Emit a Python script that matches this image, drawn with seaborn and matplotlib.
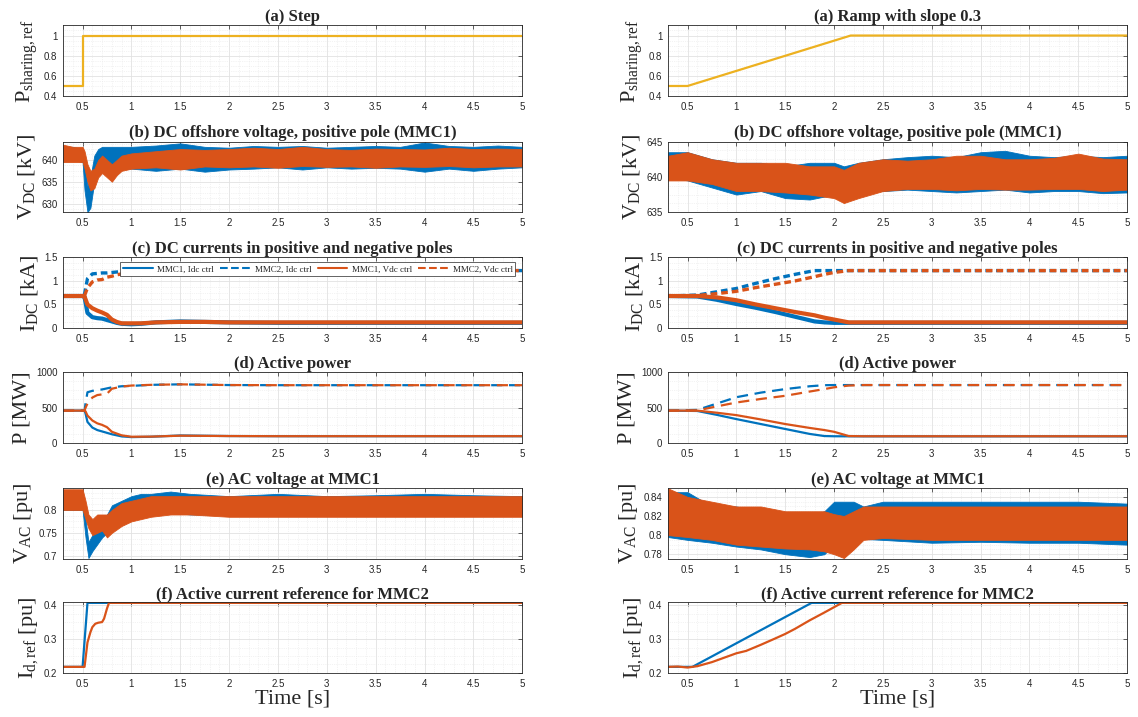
import numpy as np
import pandas as pd
import seaborn as sns
import matplotlib.pyplot as plt
from matplotlib.lines import Line2D
from matplotlib.ticker import MultipleLocator, AutoMinorLocator, FuncFormatter

# ---- data ----
# (a) power sharing reference
t_a_step = [0.3, 0.5, 0.5, 5.0]
p_a_step = [0.5, 0.5, 1.0, 1.0]
t_a_ramp = [0.3, 0.5, 2.17, 5.0]
p_a_ramp = [0.5, 0.5, 1.0, 1.0]

# (b) DC voltage envelopes (noisy signals) - step case
t_b_l = [0.3, 0.4, 0.5, 0.52, 0.55, 0.58, 0.62, 0.66, 0.7, 0.75, 0.8, 0.85, 0.9,
         1.0, 1.25, 1.5, 1.75, 2.0, 2.25, 2.5, 2.75, 3.0, 3.25, 3.5, 3.75, 4.0, 4.25, 4.5, 4.75, 5.0]
vb_idc_hi_l = [643, 643, 642.5, 640, 634, 636, 641, 642.5, 643, 643, 643, 643, 643,
               643, 643.3, 643.8, 643, 642.8, 643.2, 643, 643.2, 642.8, 643, 643.2, 643, 644, 643.2, 643, 643.3, 643]
vb_idc_lo_l = [640, 640, 639.5, 633, 628, 629, 635, 639, 639.5, 639, 638.5, 638.5, 638,
               638, 637.5, 638, 637.3, 637.8, 638, 638.3, 637.8, 638.3, 638, 638.2, 638, 637.3, 638, 637.5, 638, 638.3]
vb_vdc_hi_l = [643.5, 643, 643, 642, 639, 637.5, 638, 640, 641, 640, 639, 640, 641,
               641.5, 642, 642.5, 642.3, 642.5, 642.8, 642.5, 643, 642.5, 642.3, 642.6, 642.5, 642.4, 642.8, 642.5, 642.6, 642.5]
vb_vdc_lo_l = [639.5, 639.5, 639.5, 638, 635, 633, 633.5, 636, 637, 636, 635, 636.5, 637.5,
               638, 638.3, 637.8, 638.5, 638.3, 638.5, 638.2, 638.6, 638.4, 638.5, 638.2, 638.5, 638.4, 638.6, 638.3, 638.5, 638.5]

# (b) ramp case
t_b_r = [0.3, 0.5, 0.75, 1.0, 1.25, 1.5, 1.75, 2.0, 2.1, 2.25, 2.5, 2.75, 3.0, 3.25, 3.5, 3.75,
         4.0, 4.25, 4.5, 4.75, 5.0]
vb_idc_hi_r = [643.5, 643.5, 642.5, 642, 642, 641.5, 642, 642, 641.5, 642, 642.5, 642.8, 643, 642.8,
               643.5, 643.7, 643, 642.8, 643, 642.8, 643]
vb_idc_lo_r = [640, 639.5, 638.5, 637.5, 638, 637, 636.8, 637.5, 638, 638, 638, 638.2, 638, 637.8,
               638, 638.2, 637.8, 638, 638, 637.7, 637.8]
vb_vdc_hi_r = [643, 643.5, 642.5, 642, 642, 642, 641.5, 641.5, 641, 642, 642.5, 642.3, 642.5, 643,
               643, 642.5, 642.5, 642.7, 643.3, 642.6, 642.5]
vb_vdc_lo_r = [639.5, 639.5, 639, 638, 638, 637.8, 637.5, 637, 636.3, 637, 638, 638.3, 638.3, 638.1,
               638.3, 638.2, 638.2, 638.3, 638.3, 638, 638.2]

# (c) DC currents [kA] - step case
t_c_l = [0.3, 0.5, 0.52, 0.55, 0.6, 0.65, 0.7, 0.75, 0.8, 0.85, 0.9, 1.0, 1.1, 1.25,
         1.5, 1.75, 2.0, 2.5, 3.0, 3.5, 4.0, 4.5, 5.0]
ic_mmc1_idc_l = [0.68, 0.68, 0.66, 0.32, 0.23, 0.21, 0.2, 0.17, 0.14, 0.11, 0.09, 0.08, 0.09, 0.12,
                 0.14, 0.13, 0.12, 0.11, 0.11, 0.11, 0.11, 0.11, 0.11]
ic_mmc2_idc_l = [0.68, 0.68, 0.72, 1.05, 1.15, 1.16, 1.17, 1.17, 1.18, 1.19, 1.2, 1.2, 1.21, 1.22,
                 1.22, 1.22, 1.22, 1.22, 1.22, 1.22, 1.22, 1.22, 1.22]
ic_mmc1_vdc_l = [0.68, 0.68, 0.67, 0.5, 0.42, 0.37, 0.33, 0.28, 0.18, 0.13, 0.1, 0.1, 0.1, 0.12,
                 0.13, 0.13, 0.12, 0.12, 0.12, 0.12, 0.12, 0.12, 0.12]
ic_mmc2_vdc_l = [0.68, 0.68, 0.69, 0.85, 0.98, 1.02, 1.03, 1.08, 1.1, 1.13, 1.15, 1.18, 1.2, 1.21,
                 1.22, 1.22, 1.22, 1.22, 1.22, 1.22, 1.22, 1.22, 1.22]

# (c) ramp case
t_c_r = [0.3, 0.6, 0.8, 1.0, 1.2, 1.4, 1.6, 1.8, 1.9, 2.0, 2.15, 2.5, 3.0, 3.5, 4.0, 4.5, 5.0]
ic_mmc1_idc_r = [0.68, 0.67, 0.6, 0.51, 0.43, 0.34, 0.24, 0.14, 0.12, 0.11, 0.11, 0.11, 0.11, 0.11, 0.11, 0.11, 0.11]
ic_mmc2_idc_r = [0.68, 0.7, 0.77, 0.84, 0.95, 1.05, 1.14, 1.22, 1.22, 1.22, 1.22, 1.22, 1.22, 1.22, 1.22, 1.22, 1.22]
ic_mmc1_vdc_r = [0.68, 0.68, 0.65, 0.59, 0.5, 0.42, 0.34, 0.27, 0.22, 0.18, 0.12, 0.12, 0.12, 0.12, 0.12, 0.12, 0.12]
ic_mmc2_vdc_r = [0.68, 0.69, 0.73, 0.78, 0.86, 0.93, 1.0, 1.09, 1.14, 1.18, 1.22, 1.22, 1.22, 1.22, 1.22, 1.22, 1.22]

# (d) active power [MW] - step case
t_d_l = [0.3, 0.52, 0.53, 0.55, 0.6, 0.65, 0.7, 0.75, 0.8, 0.9, 1.0, 1.2, 1.5, 2.0, 2.5, 3.0, 4.0, 5.0]
pd_mmc1_idc_l = [460, 460, 420, 300, 220, 185, 165, 145, 125, 95, 85, 90, 108, 100, 98, 98, 98, 98]
pd_mmc2_idc_l = [460, 460, 560, 720, 740, 750, 760, 775, 790, 805, 810, 825, 832, 822, 820, 820, 820, 820]
pd_mmc1_vdc_l = [460, 460, 450, 390, 320, 280, 258, 225, 160, 110, 90, 92, 105, 100, 98, 98, 98, 98]
pd_mmc2_vdc_l = [460, 460, 500, 560, 645, 680, 690, 700, 770, 800, 815, 825, 832, 822, 820, 820, 820, 820]

# (d) ramp case
t_d_r = [0.3, 0.6, 0.8, 1.0, 1.25, 1.5, 1.75, 1.9, 2.0, 2.15, 2.3, 2.5, 3.0, 4.0, 5.0]
pd_mmc1_idc_r = [460, 455, 400, 340, 270, 200, 130, 100, 97, 96, 96, 96, 96, 96, 96]
pd_mmc2_idc_r = [460, 470, 560, 650, 715, 765, 805, 820, 822, 822, 822, 822, 822, 822, 822]
pd_mmc1_vdc_r = [460, 460, 430, 396, 335, 270, 215, 185, 160, 100, 97, 97, 97, 97, 97]
pd_mmc2_vdc_r = [460, 462, 520, 575, 625, 670, 730, 765, 790, 815, 822, 822, 822, 822, 822]

# (e) AC voltage envelopes [pu] - step case
t_e_l = [0.3, 0.4, 0.5, 0.53, 0.56, 0.6, 0.65, 0.7, 0.75, 0.8, 0.9, 1.0, 1.1, 1.2,
         1.4, 1.6, 2.0, 2.5, 3.0, 3.5, 4.0, 4.5, 5.0]
ve_idc_hi_l = [0.835, 0.84, 0.83, 0.78, 0.73, 0.745, 0.765, 0.775, 0.79, 0.81, 0.82, 0.83, 0.835, 0.835,
               0.84, 0.835, 0.83, 0.835, 0.83, 0.832, 0.835, 0.832, 0.83]
ve_idc_lo_l = [0.8, 0.8, 0.8, 0.74, 0.695, 0.71, 0.725, 0.74, 0.75, 0.76, 0.775, 0.785, 0.79, 0.795,
               0.795, 0.79, 0.79, 0.79, 0.79, 0.79, 0.79, 0.79, 0.79]
ve_vdc_hi_l = [0.845, 0.845, 0.845, 0.82, 0.79, 0.78, 0.79, 0.79, 0.79, 0.8, 0.815, 0.82, 0.825, 0.83,
               0.83, 0.83, 0.83, 0.83, 0.83, 0.83, 0.83, 0.83, 0.83]
ve_vdc_lo_l = [0.8, 0.8, 0.8, 0.78, 0.76, 0.745, 0.75, 0.755, 0.74, 0.75, 0.765, 0.775, 0.78, 0.785,
               0.79, 0.79, 0.785, 0.785, 0.785, 0.785, 0.785, 0.785, 0.785]

# (e) ramp case
t_e_r = [0.3, 0.5, 0.75, 1.0, 1.25, 1.5, 1.75, 1.9, 2.0, 2.1, 2.2, 2.3, 2.5, 3.0, 3.5, 4.0, 4.5, 5.0]
ve_idc_hi_r = [0.845, 0.845, 0.83, 0.83, 0.825, 0.82, 0.82, 0.825, 0.835, 0.835, 0.835, 0.83, 0.835,
               0.835, 0.835, 0.835, 0.835, 0.833]
ve_idc_lo_r = [0.798, 0.795, 0.792, 0.788, 0.785, 0.78, 0.777, 0.78, 0.79, 0.797, 0.797, 0.796, 0.795,
               0.792, 0.793, 0.792, 0.792, 0.79]
ve_vdc_hi_r = [0.849, 0.84, 0.835, 0.83, 0.83, 0.825, 0.825, 0.825, 0.822, 0.82, 0.825, 0.83, 0.83,
               0.83, 0.83, 0.83, 0.83, 0.83]
ve_vdc_lo_r = [0.8, 0.798, 0.795, 0.79, 0.788, 0.786, 0.785, 0.783, 0.78, 0.776, 0.785, 0.795, 0.797,
               0.795, 0.795, 0.795, 0.795, 0.795]

# (f) active current reference [pu]
t_f_idc_l = [0.3, 0.5, 0.55, 5.0]
i_f_idc_l = [0.218, 0.218, 0.4065, 0.4065]
t_f_vdc_l = [0.3, 0.52, 0.55, 0.58, 0.6, 0.63, 0.66, 0.7, 0.72, 0.75, 0.77, 5.0]
i_f_vdc_l = [0.218, 0.218, 0.29, 0.32, 0.335, 0.345, 0.348, 0.35, 0.36, 0.39, 0.4065, 0.4065]
t_f_idc_r = [0.3, 0.55, 1.77, 5.0]
i_f_idc_r = [0.218, 0.218, 0.4065, 0.4065]
t_f_vdc_r = [0.3, 0.4, 0.5, 0.6, 0.75, 1.0, 1.1, 1.25, 1.4, 1.5, 1.6, 1.75, 1.9, 2.08, 5.0]
i_f_vdc_r = [0.218, 0.219, 0.216, 0.22, 0.232, 0.258, 0.265, 0.283, 0.302, 0.315, 0.33, 0.355,
             0.378, 0.4065, 0.4065]

titles_l = ['(a) Step', '(b) DC offshore voltage, positive pole (MMC1)',
            '(c) DC currents in positive and negative poles', '(d) Active power',
            '(e) AC voltage at MMC1', '(f) Active current reference for MMC2']
titles_r = ['(a) Ramp with slope 0.3'] + titles_l[1:]
ylabels = [r'P$_{\rm sharing,ref}$', r'V$_{\rm DC}$ [kV]', r'I$_{\rm DC}$ [kA]',
           'P [MW]', r'V$_{\rm AC}$ [pu]', r'I$_{\rm d,ref}$ [pu]']
legend_labels = ['MMC1, Idc ctrl', 'MMC2, Idc ctrl', 'MMC1, Vdc ctrl', 'MMC2, Vdc ctrl']

BLUE = '#0072BD'
ORANGE = '#D95319'
YELLOW = '#EDB120'

sns.set_theme(style='whitegrid')
plt.rcParams['font.family'] = ['Liberation Sans', 'DejaVu Sans']
plt.rcParams['mathtext.fontset'] = 'custom'
plt.rcParams['mathtext.rm'] = 'Liberation Serif'
plt.rcParams['mathtext.it'] = 'Liberation Serif:italic'

fig = plt.figure(figsize=(11.38, 7.17), dpi=100)
fig.patch.set_facecolor('white')

row_bottoms = [0.866, 0.704, 0.5425, 0.382, 0.2204, 0.0614]
row_h = 0.0985
col_left = [0.0554, 0.587]
col_w = 0.4035

ylims = [(0.4, 1.1), None, (0, 1.5), (0, 1000), None, (0.2, 0.408)]
yticks = [[0.4, 0.6, 0.8, 1.0], None, [0, 0.5, 1, 1.5], [0, 500, 1000], None, [0.2, 0.3, 0.4]]
ylims_b = [(628, 644.2), (635, 645)]
yticks_b = [[630, 635, 640], [635, 640, 645]]
ylims_e = [(0.693, 0.847), (0.775, 0.849)]
yticks_e = [[0.7, 0.75, 0.8], [0.78, 0.8, 0.82, 0.84]]


def fmt(v, pos):
    return f'{v:g}'


def curve(ax, t, v, color, ls='-', lw=1.5, dashes=None):
    sns.lineplot(x=t, y=v, ax=ax, color=color, linewidth=lw, estimator=None,
                 sort=False, legend=False, linestyle=ls)
    if dashes is not None:
        ax.get_lines()[-1].set_dashes(dashes)


def band(ax, t, lo, hi, color):
    ax.fill_between(t, lo, hi, color=color, linewidth=0.6, edgecolor=color, alpha=1.0)


axes = {}
for c in range(2):
    for r in range(6):
        ax = fig.add_axes([col_left[c], row_bottoms[r], col_w, row_h])
        axes[(r, c)] = ax
        ax.set_facecolor('white')
        ax.set_xlim(0.3, 5)
        ax.xaxis.set_major_locator(MultipleLocator(0.5))
        ax.xaxis.set_minor_locator(AutoMinorLocator(5))
        ax.yaxis.set_minor_locator(AutoMinorLocator(4))
        ax.xaxis.set_major_formatter(FuncFormatter(fmt))
        ax.yaxis.set_major_formatter(FuncFormatter(fmt))
        ax.grid(True, which='major', color='#e2e2e2', linewidth=0.6, linestyle='-')
        ax.grid(True, which='minor', color='#e8e8e8', linewidth=0.5, linestyle=':')
        ax.tick_params(which='both', direction='in', top=True, right=True,
                       labelsize=7, colors='#262626', length=3, width=0.5, pad=4)
        ax.tick_params(which='minor', length=0)
        for s in ax.spines.values():
            s.set_color('#262626')
            s.set_linewidth(0.6)
        ax.set_title(titles_l[r] if c == 0 else titles_r[r], family='Liberation Serif',
                     fontweight='bold', fontsize=12, pad=3)
        ax.set_ylabel(ylabels[r], family='Liberation Serif', fontsize=16, labelpad=3)
        if r == 5:
            ax.set_xlabel('Time [s]', family='Liberation Serif', fontsize=16, labelpad=1)
        if ylims[r] is not None:
            ax.set_ylim(*ylims[r])
            ax.set_yticks(yticks[r])
        ax.set_axisbelow(True)

# (a)
curve(axes[(0, 0)], t_a_step, p_a_step, YELLOW, lw=1.6)
curve(axes[(0, 1)], t_a_ramp, p_a_ramp, YELLOW, lw=1.6)

# (b)
band(axes[(1, 0)], t_b_l, vb_idc_lo_l, vb_idc_hi_l, BLUE)
band(axes[(1, 0)], t_b_l, vb_vdc_lo_l, vb_vdc_hi_l, ORANGE)
band(axes[(1, 1)], t_b_r, vb_idc_lo_r, vb_idc_hi_r, BLUE)
band(axes[(1, 1)], t_b_r, vb_vdc_lo_r, vb_vdc_hi_r, ORANGE)
for c in range(2):
    axes[(1, c)].set_ylim(*ylims_b[c])
    axes[(1, c)].set_yticks(yticks_b[c])

# (c)
for c, (t, a, b, d, e) in enumerate([
        (t_c_l, ic_mmc1_idc_l, ic_mmc2_idc_l, ic_mmc1_vdc_l, ic_mmc2_vdc_l),
        (t_c_r, ic_mmc1_idc_r, ic_mmc2_idc_r, ic_mmc1_vdc_r, ic_mmc2_vdc_r)]):
    ax = axes[(2, c)]
    curve(ax, t, b, BLUE, lw=2.4, dashes=(2, 1.2))
    curve(ax, t, a, BLUE, lw=3.0)
    curve(ax, t, e, ORANGE, lw=2.4, dashes=(2, 1.2))
    curve(ax, t, d, ORANGE, lw=3.0)

handles = [Line2D([], [], color=BLUE, lw=1.5),
           Line2D([], [], color=BLUE, lw=1.5, ls='--'),
           Line2D([], [], color=ORANGE, lw=1.5),
           Line2D([], [], color=ORANGE, lw=1.5, ls='--')]
leg = axes[(2, 0)].legend(handles, legend_labels, loc='upper right', bbox_to_anchor=(0.985, 0.93),
                          ncol=4, prop={'family': 'Liberation Serif', 'size': 6.5},
                          frameon=True, fancybox=False, framealpha=1, borderpad=0.3,
                          handlelength=3.3, handletextpad=0.5, columnspacing=0.7, borderaxespad=0)
leg.get_frame().set_edgecolor('#262626')
leg.get_frame().set_linewidth(0.5)

# (d)
for c, (t, a, b, d, e) in enumerate([
        (t_d_l, pd_mmc1_idc_l, pd_mmc2_idc_l, pd_mmc1_vdc_l, pd_mmc2_vdc_l),
        (t_d_r, pd_mmc1_idc_r, pd_mmc2_idc_r, pd_mmc1_vdc_r, pd_mmc2_vdc_r)]):
    ax = axes[(3, c)]
    curve(ax, t, b, BLUE, lw=1.6, dashes=(5, 3))
    curve(ax, t, a, BLUE, lw=1.6)
    curve(ax, t, e, ORANGE, lw=1.6, dashes=(5, 3))
    curve(ax, t, d, ORANGE, lw=1.6)

# (e)
band(axes[(4, 0)], t_e_l, ve_idc_lo_l, ve_idc_hi_l, BLUE)
band(axes[(4, 0)], t_e_l, ve_vdc_lo_l, ve_vdc_hi_l, ORANGE)
band(axes[(4, 1)], t_e_r, ve_idc_lo_r, ve_idc_hi_r, BLUE)
band(axes[(4, 1)], t_e_r, ve_vdc_lo_r, ve_vdc_hi_r, ORANGE)
for c in range(2):
    axes[(4, c)].set_ylim(*ylims_e[c])
    axes[(4, c)].set_yticks(yticks_e[c])

# (f)
curve(axes[(5, 0)], t_f_idc_l, i_f_idc_l, BLUE, lw=1.6)
curve(axes[(5, 0)], t_f_vdc_l, i_f_vdc_l, ORANGE, lw=1.6)
curve(axes[(5, 1)], t_f_idc_r, i_f_idc_r, BLUE, lw=1.6)
curve(axes[(5, 1)], t_f_vdc_r, i_f_vdc_r, ORANGE, lw=1.6)

for ax in axes.values():
    ax.set_xlim(0.3, 5)

fig.savefig('out.png', dpi=100, facecolor='white')
